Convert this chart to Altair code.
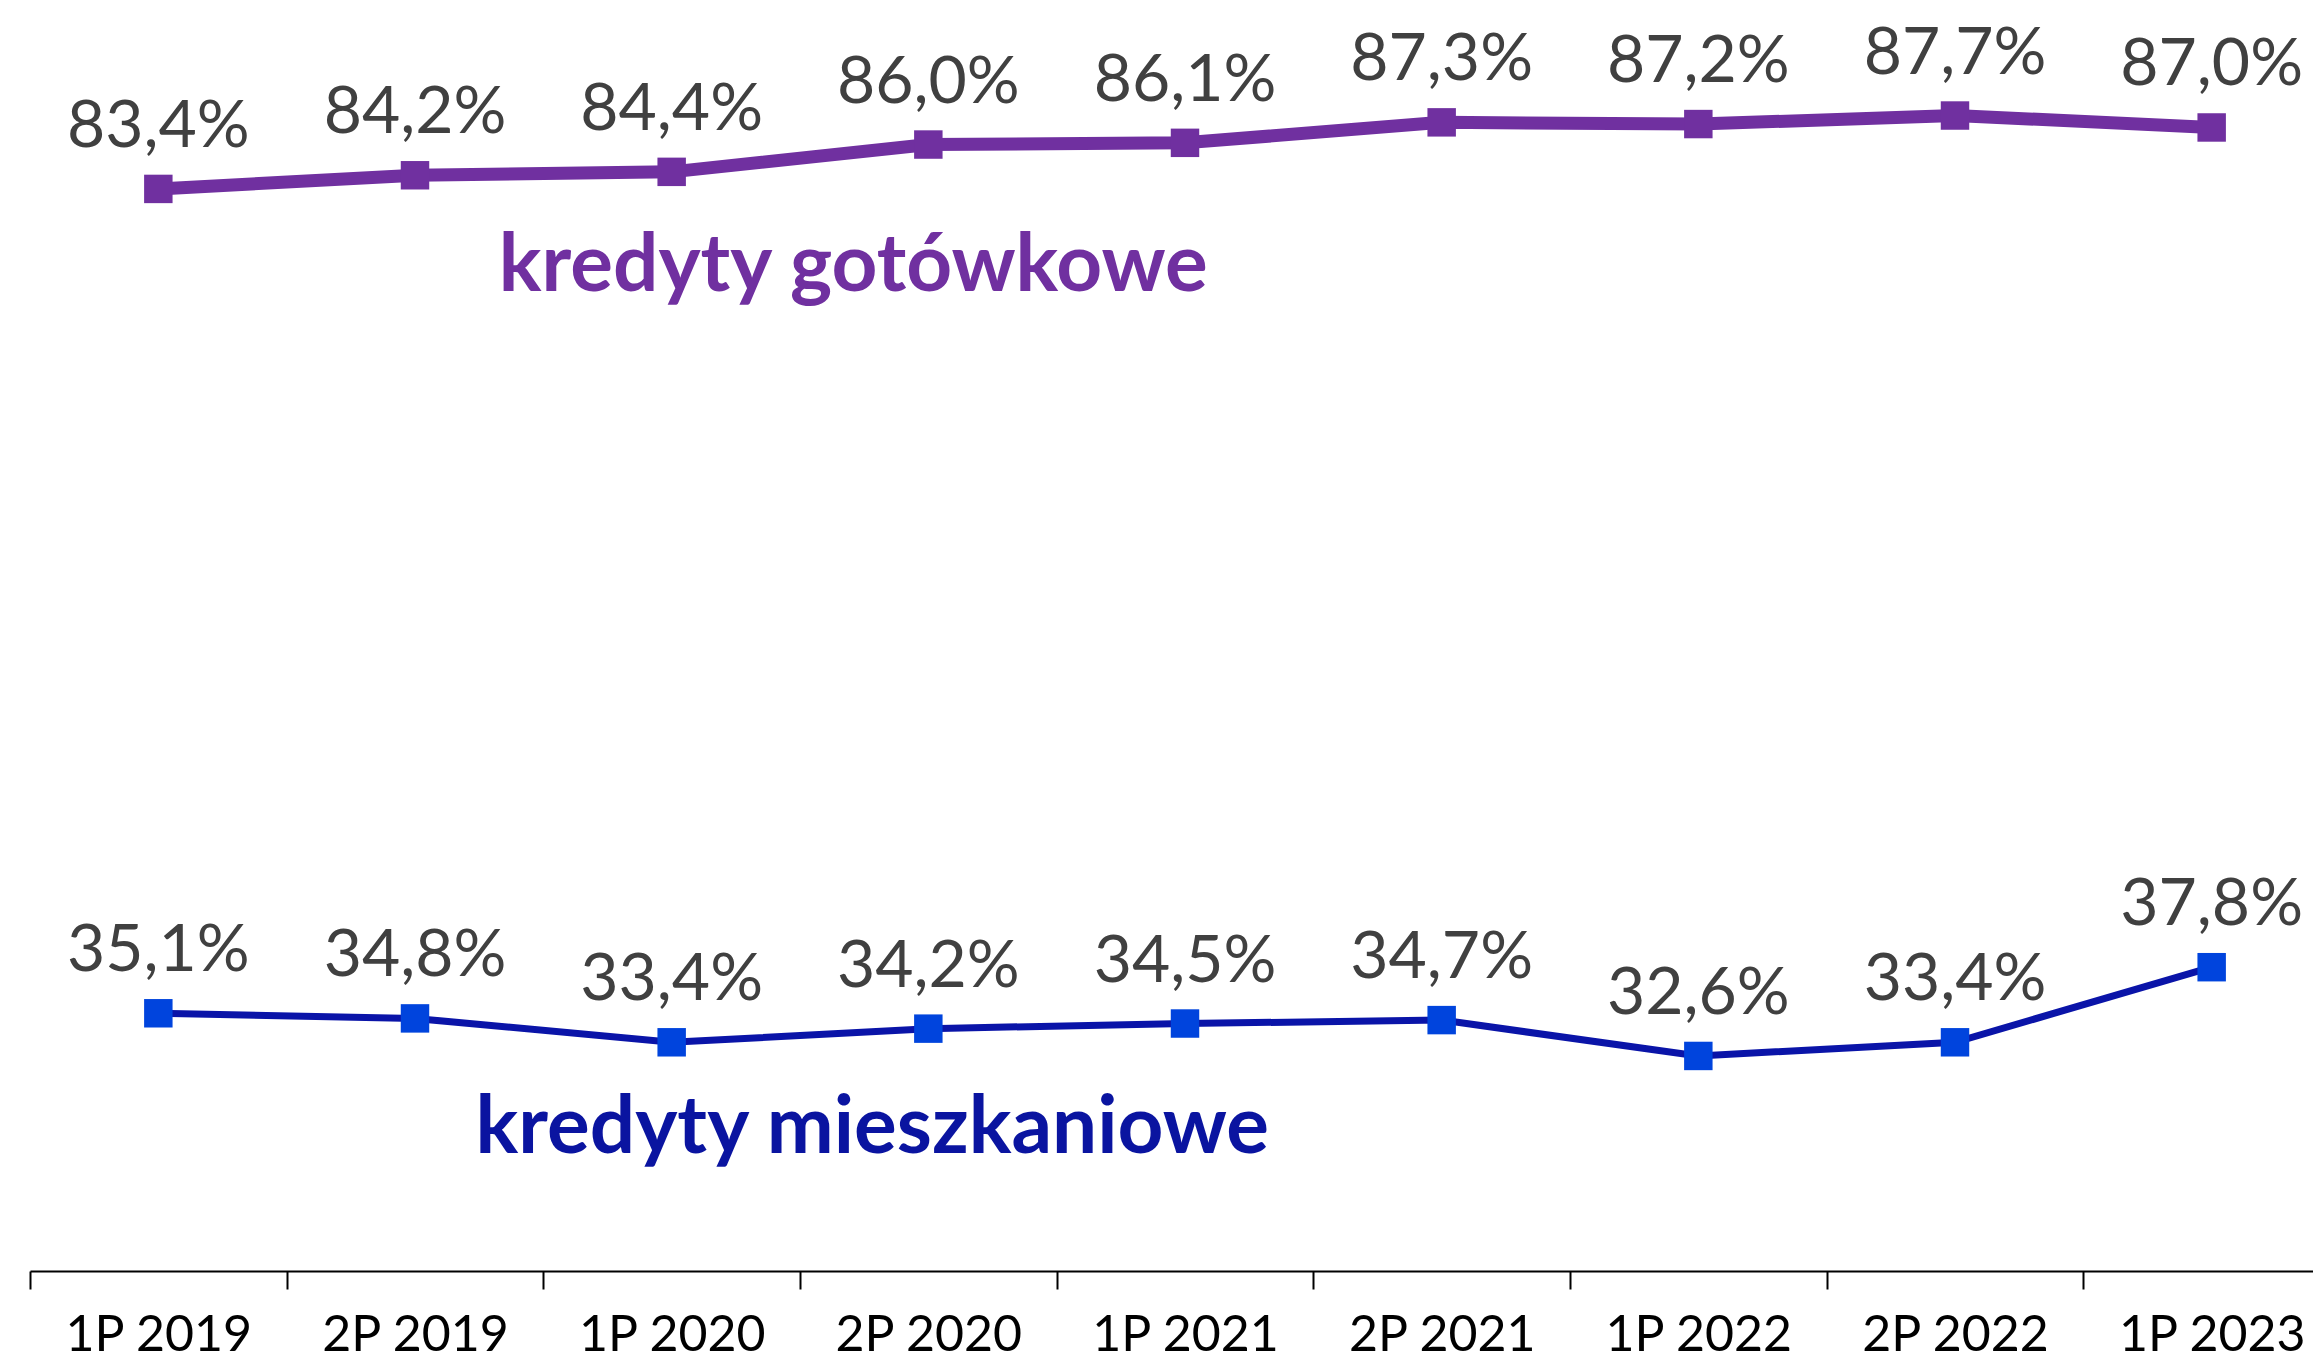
import altair as alt
import pandas as pd

periods = ["1P 2019", "2P 2019", "1P 2020", "2P 2020", "1P 2021",
           "2P 2021", "1P 2022", "2P 2022", "1P 2023"]
gotowkowe = [83.4, 84.2, 84.4, 86.0, 86.1, 87.3, 87.2, 87.7, 87.0]
mieszkaniowe = [35.1, 34.8, 33.4, 34.2, 34.5, 34.7, 32.6, 33.4, 37.8]
series_names = ["kredyty gotówkowe", "kredyty mieszkaniowe"]
line_colors = ["#7030A0", "#0A14A8"]
marker_colors = ["#7030A0", "#0044DD"]
label_colors = ["#7030A0", "#0A14A0"]
annot_period = ["2P 2020", "2P 2020"]
annot_value = [77.4, 26.9]

rows = []
for name, vals in zip(series_names, [gotowkowe, mieszkaniowe]):
    for p, v in zip(periods, vals):
        rows.append({"series": name, "period": p, "value": v,
                     "label": f"{v:.1f}".replace(".", ",") + "%"})
df = pd.DataFrame(rows)

annot = pd.DataFrame({"series": series_names, "period": annot_period,
                      "value": annot_value})

xscale = alt.Scale(paddingInner=0, paddingOuter=0, range=[0, 2310])
yscale = alt.Scale(domain=[20, 94], nice=False, zero=False)

x = alt.X("period:N", sort=periods, scale=xscale,
          axis=alt.Axis(title=None, tickBand="extent", labelAngle=0,
                        labelFontSize=50, labelColor="#000000", labelLimit=0,
                        labelFont="Lato", domainColor="#000000",
                        domainWidth=2, tickColor="#000000", tickWidth=2,
                        tickSize=18, labelPadding=21, grid=False))
y = alt.Y("value:Q", scale=yscale, axis=None)

base = alt.Chart(df).encode(x=x, y=y)

lines = base.mark_line().encode(
    color=alt.Color("series:N", scale=alt.Scale(domain=series_names, range=line_colors), legend=None),
    strokeWidth=alt.StrokeWidth("series:N", scale=alt.Scale(domain=series_names, range=[13, 7]), legend=None),
)

points = base.mark_square(size=810, opacity=1, filled=True).encode(
    fill=alt.Fill("series:N", scale=alt.Scale(domain=series_names, range=marker_colors), legend=None),
)

labels = base.mark_text(fontSize=66, font="Lato", color="#404040",
                        baseline="alphabetic", dy=-42).encode(text="label:N")

annot_layers = []
for name, col, dx in zip(series_names, label_colors, [-75, -56]):
    annot_layers.append(
        alt.Chart(annot[annot["series"] == name]).mark_text(
            fontSize=80, font="Lato", fontWeight="bold", color=col,
            baseline="alphabetic", align="center", dx=dx
        ).encode(
            x=alt.X("period:N", sort=periods, scale=xscale),
            y=alt.Y("value:Q", scale=yscale),
            text="series:N",
        )
    )

chart = alt.layer(lines, points, labels, *annot_layers).properties(
    width=2283, height=1263,
    autosize=alt.AutoSizeParams(type="none"),
    padding={"left": 22, "top": 0, "right": 0, "bottom": 89},
).configure(font="Lato").configure_view(stroke=None)

chart.save("out.html", embed_options={"renderer": "svg", "actions": False})
